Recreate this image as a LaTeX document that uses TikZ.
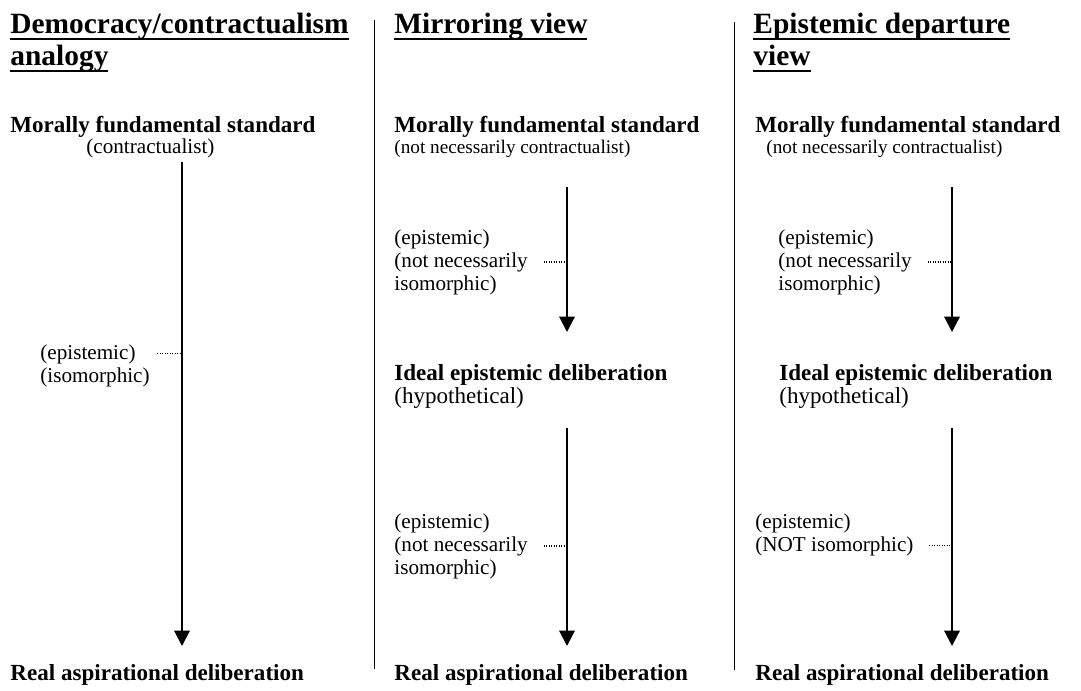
\documentclass[tikz,border=0pt]{standalone}
\usepackage{fontspec}
\setmainfont{Liberation Serif}
\usetikzlibrary{arrows.meta}

% heading underline at a fixed depth
\newcommand{\hdul}[1]{\setbox0\hbox{#1}\rlap{\rule[-3.2pt]{\wd0}{1pt}}\box0}

\begin{document}
\begin{tikzpicture}[
    x=0.52pt, y=-0.52pt,
    head/.style={anchor=base west, inner sep=0pt, font=\fontsize{15.3}{16}\selectfont\bfseries},
    term/.style={anchor=base west, inner sep=0pt, font=\fontsize{12}{14}\selectfont\bfseries},
    note/.style={anchor=base west, inner sep=0pt, font=\fontsize{12}{14}\selectfont},
    lbl/.style={anchor=base west, inner sep=0pt, font=\fontsize{11}{13}\selectfont},
    fine/.style={anchor=base west, inner sep=0pt, font=\fontsize{10}{12}\selectfont},
    arr/.style={-{Triangle[width=8pt,length=8pt]}, line width=1.1pt},
    sep/.style={line width=0.8pt},
    dots/.style={line width=0.6pt, dash pattern=on 0.6pt off 0.7pt}
]
\useasboundingbox (0,0) rectangle (1081,690);

% column separators
\coordinate (s1a) at (374.5,20);
\coordinate (s1b) at (374.5,669);
\coordinate (s2a) at (734.5,22);
\coordinate (s2b) at (734.5,670);
\draw[sep] (s1a) -- (s1b);
\draw[sep] (s2a) -- (s2b);

% left column
\node[head] (h1a) at (10,34) {\hdul{Democracy/contractualism}};
\node[head] (h1b) at (10,66) {\hdul{analogy}};
\node[term] (m1) at (10,133) {Morally fundamental standard};
\node[lbl] (m1n) at (86,154) {(contractualist)};
\node[lbl] (e1a) at (40,359) {(epistemic)};
\node[lbl] (e1b) at (40,382) {(isomorphic)};
\node[term] (r1) at (10,680) {Real aspirational deliberation};
\coordinate (a1s) at (182,162);
\coordinate (a1e) at (182,646);
\draw[arr] (a1s) -- (a1e);
\draw[dots] ([xshift=11pt]e1a.east) -- (e1a.east -| a1s);

% middle column
\node[head] (h2) at (394,34) {\hdul{Mirroring view}};
\node[term] (m2) at (394,133) {Morally fundamental standard};
\node[fine] (m2n) at (394,154) {(not necessarily contractualist)};
\node[lbl] (e2a) at (394,244) {(epistemic)};
\node[lbl] (e2b) at (394,267) {(not necessarily};
\node[lbl] (e2c) at (394,290) {isomorphic)};
\node[term] (i2) at (394,380) {Ideal epistemic deliberation};
\node[note] (i2n) at (394,403) {(hypothetical)};
\node[lbl] (f2a) at (394,528) {(epistemic)};
\node[lbl] (f2b) at (394,551) {(not necessarily};
\node[lbl] (f2c) at (394,574) {isomorphic)};
\node[term] (r2) at (394,680) {Real aspirational deliberation};
\coordinate (a2s) at (567,187);
\coordinate (a2e) at (567,332);
\coordinate (b2s) at (567,428);
\coordinate (b2e) at (567,646);
\draw[arr] (a2s) -- (a2e);
\draw[arr] (b2s) -- (b2e);
\draw[dots] ([xshift=8pt]e2b.east) -- (e2b.east -| a2s);
\draw[dots] ([xshift=8pt]f2b.east) -- (f2b.east -| b2s);

% right column
\node[head] (h3a) at (753,34) {\hdul{Epistemic departure}};
\node[head] (h3b) at (753,66) {\hdul{view}};
\node[term] (m3) at (755,133) {Morally fundamental standard};
\node[fine] (m3n) at (766,154) {(not necessarily contractualist)};
\node[lbl] (e3a) at (778,244) {(epistemic)};
\node[lbl] (e3b) at (778,267) {(not necessarily};
\node[lbl] (e3c) at (778,290) {isomorphic)};
\node[term] (i3) at (779,380) {Ideal epistemic deliberation};
\node[note] (i3n) at (779,403) {(hypothetical)};
\node[lbl] (f3a) at (755,528) {(epistemic)};
\node[lbl] (f3b) at (755,551) {(NOT isomorphic)};
\node[term] (r3) at (755,680) {Real aspirational deliberation};
\coordinate (a3s) at (952,187);
\coordinate (a3e) at (952,332);
\coordinate (b3s) at (952,428);
\coordinate (b3e) at (952,646);
\draw[arr] (a3s) -- (a3e);
\draw[arr] (b3s) -- (b3e);
\draw[dots] ([xshift=8pt]e3b.east) -- (e3b.east -| a3s);
\draw[dots] ([xshift=8pt]f3b.east) -- (f3b.east -| b3s);
\end{tikzpicture}
\end{document}
